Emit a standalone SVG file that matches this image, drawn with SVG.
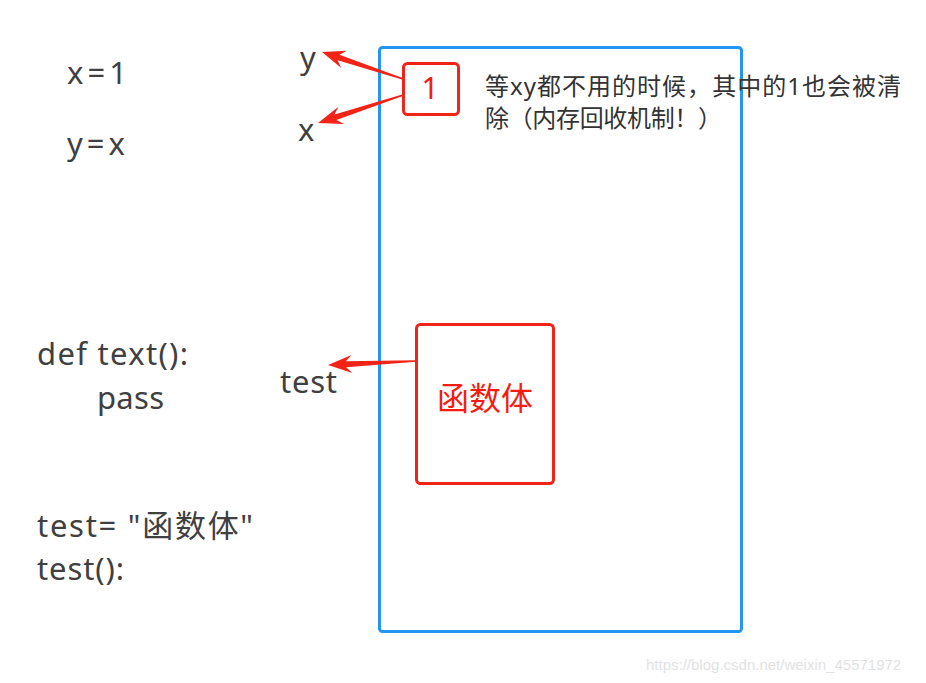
<svg xmlns="http://www.w3.org/2000/svg" width="926" height="683" viewBox="0 0 926 683">
<style>
.t{font-family:"Noto Sans","Noto Sans CJK SC",sans-serif;fill:#404040}
.big{font-size:31px}
.note{font-size:24px;fill:#333}
.red{fill:#f41c10}
.box{fill:none;stroke:#f22418;stroke-width:3}
</style>
<defs>
<path id="arr" d="M0,0 L24,-9 L18,-3 L88,-0.8 L88,0.8 L18,3 L24,9 Z" fill="#f22418"/>
</defs>
<rect width="926" height="683" fill="#fff"/>
<g id="memory">
<rect x="379.5" y="47.5" width="362" height="584" rx="3" fill="none" stroke="#2196f3" stroke-width="3"/>
</g>
<g id="code">
<text class="t big" x="67" y="84" textLength="60" lengthAdjust="spacing">x=1</text>
<text class="t big" x="67" y="155" textLength="58" lengthAdjust="spacing">y=x</text>
<text class="t big" x="37" y="365" textLength="151" lengthAdjust="spacing">def text():</text>
<text class="t big" x="97" y="409" textLength="67" lengthAdjust="spacing">pass</text>
<text class="t big" x="37" y="537" textLength="216" lengthAdjust="spacing">test= "函数体"</text>
<text class="t big" x="37" y="580" textLength="87" lengthAdjust="spacing">test():</text>
</g>
<g id="label-y"><text class="t big" x="300" y="69">y</text></g>
<g id="label-x"><text class="t big" x="298" y="141">x</text></g>
<g id="label-test"><text class="t big" x="280" y="393" textLength="57" lengthAdjust="spacing">test</text></g>
<g id="node-1">
<rect class="box" x="403.5" y="63.5" width="55" height="51" rx="4"/>
<text class="t big red" x="430" y="99" text-anchor="middle">1</text>
</g>
<g id="note"><text class="t note" x="485" y="95" textLength="416" lengthAdjust="spacing">等xy都不用的时候，其中的1也会被清</text>
<text class="t note" x="485" y="127" textLength="237" lengthAdjust="spacing">除（内存回收机制！）</text></g>
<g id="node-func">
<rect class="box" x="416.5" y="324.5" width="137" height="159" rx="4"/>
<text class="t red" font-size="32" x="485" y="410" text-anchor="middle">函数体</text>
</g>
<g id="connectors">
<use href="#arr" transform="translate(322,52) rotate(18.4) scale(0.97,1)"/>
<use href="#arr" transform="translate(318,123) rotate(-18.2) scale(1.02,1)"/>
<use href="#arr" transform="translate(328,365) rotate(-2.6)"/>
</g>
<text x="646" y="670" font-family="Liberation Sans,sans-serif" font-size="15" fill="#e2e2e2">https://blog.csdn.net/weixin_45571972</text>
</svg>
